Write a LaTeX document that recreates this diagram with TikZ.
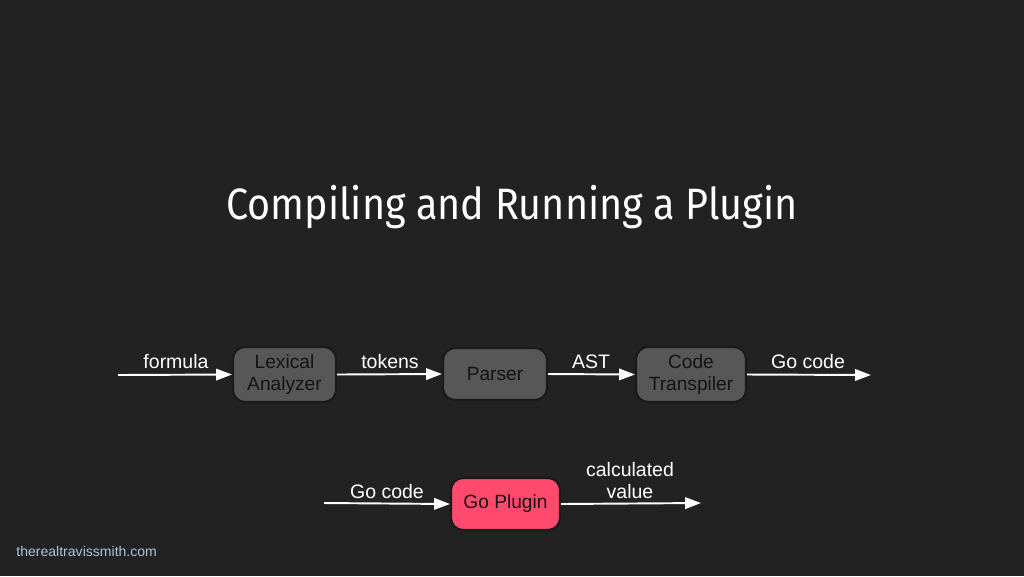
\documentclass[tikz,border=0pt]{standalone}
\usepackage{fontspec}
\setmainfont{Liberation Sans}
\newfontfamily\titlefont{Fira Sans}
\usetikzlibrary{arrows.meta}
\definecolor{bg}{HTML}{222222}
\definecolor{boxgray}{HTML}{575757}
\definecolor{boxline}{HTML}{1A1A1A}
\definecolor{boxtext}{HTML}{141414}
\definecolor{plugin}{HTML}{FF4A6E}
\definecolor{footer}{HTML}{A9C4E4}
\tikzset{
  stage/.style={draw=boxline, line width=1.2pt, fill=boxgray, rounded corners=12*0.02cm,
    text=boxtext, font=\fontsize{10.9}{12.3}\selectfont, align=center, inner sep=0pt},
  flow/.style={draw=white, line width=1.1pt, -{Triangle[length=9pt,width=6.5pt]}},
  lbl/.style={text=white, font=\fontsize{11.1}{12.3}\selectfont, align=center, inner sep=0pt}
}
\begin{document}
\begin{tikzpicture}[x=0.02cm,y=-0.02cm]
\fill[bg] (0,0) rectangle (1024,576);
\useasboundingbox (0,0) rectangle (1024,576);
\node[text=white, font=\titlefont\fontsize{25}{28}\selectfont] (title) at (512,207) {\scalebox{0.9}[1]{Compiling and Running a Plugin}};
% top row
\node[stage, minimum width=103*0.02cm, minimum height=55*0.02cm] (lex) at (284.5,374.5) {Lexical\\Analyzer};
\node[stage, minimum width=104*0.02cm, minimum height=52*0.02cm] (parser) at (495,374) {Parser};
\node[stage, minimum width=110*0.02cm, minimum height=55*0.02cm] (trans) at (691,374.5) {Code\\Transpiler};
\coordinate (in1) at (118,375);
\coordinate (out1) at (871,375);
\draw[flow] (in1) -- (lex.west);
\draw[flow] (lex.east) -- (parser.west);
\draw[flow] (parser.east) -- (trans.west);
\draw[flow] (trans.east) -- (out1);
\node[lbl] (lformula) at (176,362) {formula};
\node[lbl] (ltokens) at (390,362) {tokens};
\node[lbl] (last) at (591,362) {AST};
\node[lbl] (lgo1) at (808,362) {Go code};
% bottom row
\node[stage, fill=plugin, minimum width=109*0.02cm, minimum height=52*0.02cm] (plug) at (505.5,504) {Go Plugin};
\coordinate (in2) at (324,503);
\coordinate (out2) at (701,503);
\draw[flow] (in2) -- (plug.west);
\draw[flow] (plug.east) -- (out2);
\node[lbl] (lgo2) at (387,492) {Go code};
\node[lbl] (lcalc) at (630,480.5) {calculated\\value};
\node[text=footer, font=\fontsize{8}{9}\selectfont, anchor=west, inner sep=0pt] (foot) at (16,551) {therealtravissmith.com};
\end{tikzpicture}
\end{document}
